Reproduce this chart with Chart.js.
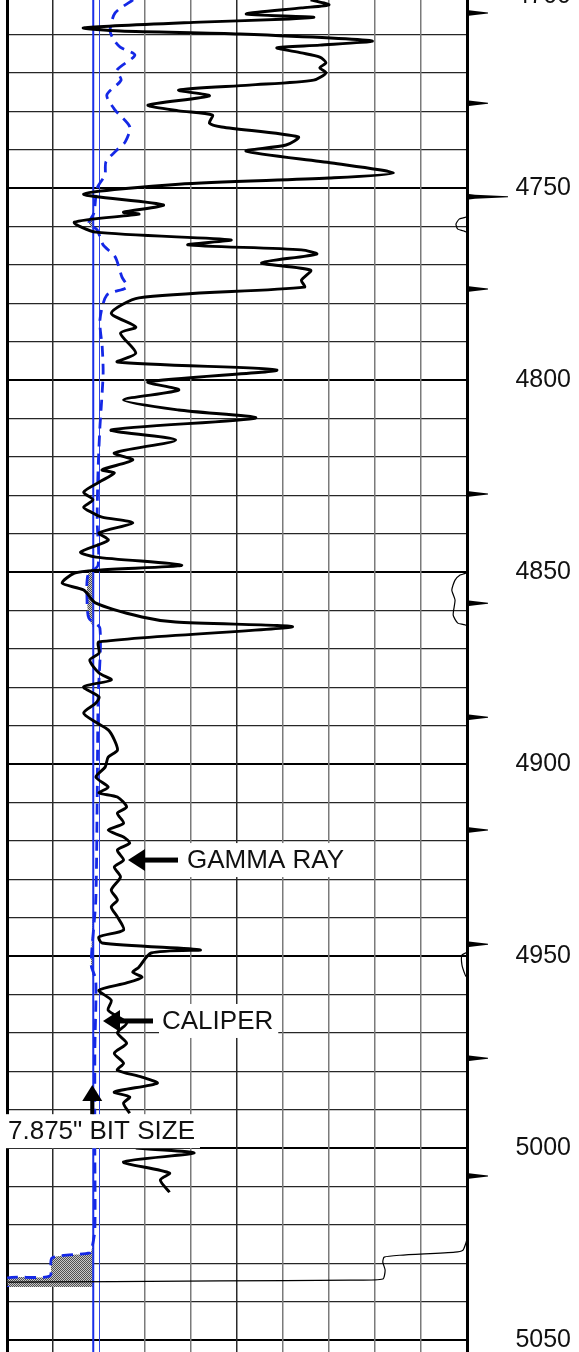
<!DOCTYPE html>
<html>
<head>
<meta charset="utf-8">
<title>Gamma ray / caliper log</title>
<script src="https://cdn.jsdelivr.net/npm/chart.js@4.4.1/dist/chart.umd.min.js"></script>
<style>
  html, body { margin: 0; padding: 0; background: #fff; overflow: hidden; }
  #wrap { position: relative; width: 579px; height: 1352px; }
</style>
</head>
<body>
<div id="wrap"><canvas id="logChart"></canvas></div>
<script>
// --- Log data: depth in ft, gamma ray in API, caliper in inches ---
const topDepth = 4701.04;
const baseDepth = 5053.1;
const depthLabels = [4700, 4750, 4800, 4850, 4900, 4950, 5000, 5050];
const bitSize = 7.875;

const grDepth = [
  4701.0, 4702.3, 4703.1, 4704.7, 4705.5, 4706.0, 4706.8, 4708.3, 4709.1, 4709.9,
  4711.7, 4712.8, 4713.5, 4714.8, 4715.9, 4717.4, 4718.7, 4720.0, 4721.9, 4723.2,
  4724.5, 4726.0, 4728.4, 4729.9, 4731.0, 4733.1, 4734.1, 4736.7, 4738.8, 4740.4,
  4743.5, 4746.1, 4747.4, 4749.0, 4751.6, 4754.4, 4756.3, 4756.8, 4758.9, 4761.5,
  4763.5, 4764.8, 4766.1, 4767.2, 4769.5, 4771.4, 4774.0, 4775.8, 4778.6, 4782.6,
  4786.2, 4787.8, 4793.0, 4795.3, 4797.4, 4800.5, 4802.6, 4805.2, 4807.8, 4809.9,
  4813.0, 4815.6, 4819.0, 4820.8, 4823.4, 4824.2, 4826.6, 4829.2, 4831.2, 4833.1,
  4834.6, 4835.7, 4837.2, 4839.8, 4841.7, 4844.8, 4846.1, 4848.2, 4849.5, 4850.3,
  4852.9, 4854.7, 4858.1, 4861.7, 4863.0, 4864.3, 4868.2, 4871.1, 4872.9, 4876.3,
  4878.1, 4879.9, 4882.5, 4884.1, 4886.7, 4889.1, 4891.1, 4893.7, 4896.4, 4898.2,
  4900.8, 4903.4, 4906.0, 4907.5, 4908.6, 4911.2, 4912.8, 4915.4, 4917.2, 4919.0,
  4920.6, 4922.4, 4925.0, 4926.8, 4929.4, 4932.8, 4935.4, 4937.2, 4939.8, 4943.2,
  4945.0, 4946.6, 4948.4, 4949.2, 4952.9, 4954.2, 4955.5, 4957.0, 4958.9, 4961.5,
  4964.1, 4967.4, 4970.0, 4972.7, 4975.3, 4977.9, 4979.7, 4981.5, 4983.1, 4985.4,
  4986.7, 4988.3, 4990.9, 4995.0, 5000.0, 5001.3, 5003.6, 5006.5, 5008.3, 5011.5
];
const grValue = [
  99, 105, 96, 78, 100, 92, 63, 25, 37, 76,
  119, 102, 88, 96, 102, 104, 102, 104, 100, 79,
  56, 66, 46, 56, 67, 66, 70, 95, 91, 78,
  106, 126, 105, 56, 25, 51, 38, 43, 22, 29,
  73, 59, 96, 101, 83, 99, 96, 97, 43, 34,
  42, 37, 42, 36, 88, 46, 56, 38, 56, 81,
  34, 55, 35, 41, 31, 35, 30, 25, 28, 25,
  28, 31, 41, 30, 33, 24, 29, 57, 30, 22,
  18, 25, 29, 44, 55, 93, 30, 30, 27, 30,
  34, 25, 30, 29, 25, 29, 33, 35, 36, 33,
  32, 29, 33, 30, 36, 39, 36, 38, 33, 38,
  40, 36, 38, 35, 37, 34, 36, 34, 36, 38,
  30, 31, 63, 47, 43, 41, 44, 39, 30, 34,
  33, 39, 36, 39, 35, 38, 36, 44, 49, 35,
  40, 38, 40, null, 42, 61, 38, 53, 50, 53
];

const calDepth = [
  4701.0, 4704.4, 4708.9, 4711.0, 4713.3, 4715.4, 4719.3, 4721.9, 4725.8, 4729.7,
  4734.1, 4738.0, 4740.1, 4743.2, 4746.6, 4750.0, 4756.5, 4759.1, 4760.9, 4764.8,
  4767.9, 4773.2, 4775.8, 4777.9, 4784.4, 4791.4, 4798.2, 4808.6, 4812.2, 4823.4,
  4836.5, 4848.2, 4850.8, 4857.3, 4862.0, 4864.6, 4883.3, 4909.4, 4935.4, 4952.3,
  4956.2, 4974.5, 5000.5, 5021.3, 5025.8, 5027.3, 5028.6, 5033.3, 5033.8, 5036.2
];
const calValue = [
  8.74, 8.35, 8.24, 8.30, 8.46, 8.78, 8.39, 8.48, 8.17, 8.35,
  8.67, 8.57, 8.39, 8.15, 8.13, 7.96, 7.89, 7.78, 7.96, 8.09,
  8.35, 8.50, 8.61, 8.17, 8.02, 8.07, 8.09, 8.04, 8.02, 7.98,
  7.96, 7.98, 7.76, 7.74, 7.78, 8.02, 7.98, 7.96, 7.93, 7.83,
  7.93, 7.91, 7.91, 7.91, 7.85, 7.80, 6.98, 6.93, 6.02, 6.02
];

// thin curve riding on the right edge of the track
const rightDepth = [
  4701.0, 4757.3, 4758.1, 4759.4, 4760.7, 4761.7, 4850.0, 4850.8, 4852.1, 4854.7,
  4857.3, 4861.2, 4863.3, 4864.1, 4948.9, 4949.7, 4952.3, 4954.9, 4955.7, 5023.4,
  5025.3, 5026.6, 5027.1, 5027.9, 5028.4, 5029.7, 5031.8, 5034.1, 5034.4, 5034.6,
  5034.9
];
const rightValue = [
  16, 16, 15.83, 15.76, 15.80, 16, 16, 15.85, 15.74, 15.67,
  15.74, 15.70, 15.80, 16, 16, 15.89, 15.89, 15.96, 16, 16,
  15.96, 15.91, 15.74, 14.54, 14.20, 14.17, 14.22, 14.17, 13.46, 10.63,
  6.02
];

// time marks on the depth track
const timeMarkDepth = [4704.4, 4727.9, 4752.3, 4776.3, 4829.7, 4858.1, 4887.8, 4917.2, 4946.9, 4976.6, 5007.3];
const longMarkDepth = 4752.3;

const FONT = '"Liberation Sans", Arial, sans-serif';

document.addEventListener('DOMContentLoaded', () => {

    const pts = (d, v) => d.map((y, i) => ({ x: v[i], y: y }));

    // caliper clipped at bit size -> shaded where hole is under gauge
    const shadeValue = calValue.map(v => Math.min(v, bitSize));

    // stipple pattern for the shading
    const pc = document.createElement('canvas');
    pc.width = 2; pc.height = 2;
    const pctx = pc.getContext('2d');
    pctx.fillStyle = '#c8c8c8'; pctx.fillRect(0, 0, 2, 2);
    pctx.fillStyle = '#505050'; pctx.fillRect(0, 0, 1, 1); pctx.fillRect(1, 1, 1, 1);
    const stipple = pctx.createPattern(pc, 'repeat');

    const logLabels = {
        id: 'logLabels',
        afterDatasetsDraw(chart) {
            const { ctx, chartArea, scales } = chart;
            const y = scales.y;
            ctx.save();

            // time marks
            ctx.fillStyle = '#000';
            timeMarkDepth.forEach(d => {
                const py = y.getPixelForValue(d);
                const len = d === longMarkDepth ? 41 : 21;
                const r = chartArea.right;
                ctx.beginPath();
                ctx.moveTo(r, py - 3);
                ctx.lineTo(r + 8, py - 2);
                ctx.lineTo(r + len, py - 0.5);
                ctx.lineTo(r + len, py + 0.5);
                ctx.lineTo(r + 8, py + 2);
                ctx.lineTo(r, py + 3);
                ctx.closePath();
                ctx.fill();
            });

            ctx.font = '26px ' + FONT;
            ctx.textBaseline = 'middle';
            ctx.textAlign = 'left';

            const box = (text, x, py) => {
                const w = ctx.measureText(text).width;
                ctx.fillStyle = '#fff';
                ctx.fillRect(x - 3, py - 17, w + 8, 34);
                ctx.fillStyle = '#111';
                ctx.fillText(text, x, py + 1);
            };

            const arrowLeft = (tip, tail, py) => {
                ctx.fillStyle = '#000';
                ctx.fillRect(tip + 16, py - 2.5, tail - tip - 16, 5);
                ctx.beginPath();
                ctx.moveTo(tip, py);
                ctx.lineTo(tip + 17, py - 11);
                ctx.lineTo(tip + 17, py + 11);
                ctx.closePath();
                ctx.fill();
            };

            // GAMMA RAY
            const gy = y.getPixelForValue(4925.0);
            box('GAMMA RAY', 187, gy);
            arrowLeft(128, 178, gy);

            // CALIPER
            const cy = y.getPixelForValue(4966.9);
            box('CALIPER', 162, cy);
            arrowLeft(103, 153, cy);

            // bit size label with up arrow
            const by = y.getPixelForValue(4995.6);
            box('7.875" BIT SIZE', 8, by);
            const ax = scales.xCal.getPixelForValue(bitSize) - 1;
            const tipY = y.getPixelForValue(4983.6);
            ctx.fillStyle = '#000';
            ctx.beginPath();
            ctx.moveTo(ax, tipY);
            ctx.lineTo(ax - 10, tipY + 16);
            ctx.lineTo(ax + 10, tipY + 16);
            ctx.closePath();
            ctx.fill();
            ctx.fillRect(ax - 2, tipY + 15, 4, by - 17 - tipY - 15);

            ctx.restore();
        }
    };

    const gridX = [6, 7, 8, 9, 10, 11, 12, 13, 14, 15, 16];
    const gridY = [];
    for (let d = 4700; d <= 5050; d += 10) gridY.push(d);

    new Chart(document.getElementById('logChart'), {
        type: 'line',
        data: {
            datasets: [
                {
                    label: 'Gamma ray',
                    data: pts(grDepth, grValue),
                    xAxisID: 'xGR',
                    borderColor: '#000',
                    borderWidth: 2.9,
                    tension: 0.25,
                    pointRadius: 0,
                    spanGaps: false
                },
                {
                    label: 'Right curve',
                    data: pts(rightDepth, rightValue),
                    xAxisID: 'xCal',
                    borderColor: '#000',
                    borderWidth: 1.2,
                    tension: 0.2,
                    pointRadius: 0
                },
                {
                    label: 'Caliper',
                    data: pts(calDepth, calValue),
                    xAxisID: 'xCal',
                    borderColor: '#1428e6',
                    borderWidth: 2.8,
                    borderDash: [11, 7],
                    tension: 0.25,
                    pointRadius: 0
                },
                {
                    label: 'Bit size',
                    data: [{ x: bitSize, y: topDepth }, { x: bitSize, y: baseDepth }],
                    xAxisID: 'xCal',
                    borderColor: '#1a2fe8',
                    borderWidth: 2,
                    pointRadius: 0
                },
                {
                    label: 'Undergauge',
                    data: pts(calDepth, shadeValue),
                    xAxisID: 'xCal',
                    borderWidth: 0,
                    borderColor: 'rgba(0,0,0,0)',
                    backgroundColor: stipple,
                    tension: 0.25,
                    pointRadius: 0,
                    fill: 3
                }
            ]
        },
        options: {
            indexAxis: 'y',
            responsive: true,
            maintainAspectRatio: false,
            animation: false,
            events: [],
            layout: { padding: { left: 7, right: 8, top: 0, bottom: 0 } },
            plugins: {
                legend: { display: false },
                tooltip: { enabled: false },
                filler: { propagate: false }
            },
            scales: {
                y: {
                    type: 'linear',
                    position: 'right',
                    reverse: true,
                    min: topDepth,
                    max: baseDepth,
                    afterBuildTicks: s => { s.ticks = gridY.map(v => ({ value: v })); },
                    afterFit: s => { s.width = 104; s.paddingTop = 0; s.paddingBottom = 0; },
                    ticks: {
                        autoSkip: false,
                        crossAlign: 'far',
                        color: '#111',
                        font: { family: FONT, size: 25 },
                        callback: v => depthLabels.includes(v) ? String(v) : ''
                    },
                    grid: {
                        drawTicks: false,
                        color: c => (c.tick && c.tick.value % 50 === 0) ? '#000' : '#262626',
                        lineWidth: c => (c.tick && c.tick.value % 50 === 0) ? 2 : 1.2
                    },
                    border: { display: true, color: '#000', width: 3 }
                },
                xCal: {
                    type: 'linear',
                    position: 'bottom',
                    min: 6,
                    max: 16,
                    afterBuildTicks: s => { s.ticks = gridX.map(v => ({ value: v })); },
                    afterFit: s => { s.height = 0; s.paddingLeft = 0; s.paddingRight = 0; },
                    ticks: { display: false },
                    border: { display: false },
                    grid: {
                        drawTicks: false,
                        color: c => {
                            const v = c.tick ? c.tick.value : 0;
                            if (v === 6 || v === 16) return '#000';
                            if (v === 8) return '#2f44e8';
                            if (v === 7 || v === 11) return '#2a2a2a';
                            return '#7a7a7a';
                        },
                        lineWidth: c => {
                            const v = c.tick ? c.tick.value : 0;
                            if (v === 6 || v === 16) return 3;
                            if (v === 8) return 1;
                            return 1.5;
                        }
                    }
                },
                xGR: {
                    type: 'linear',
                    display: false,
                    min: 0,
                    max: 150
                }
            }
        },
        plugins: [logLabels]
    });
});
</script>
</body>
</html>
